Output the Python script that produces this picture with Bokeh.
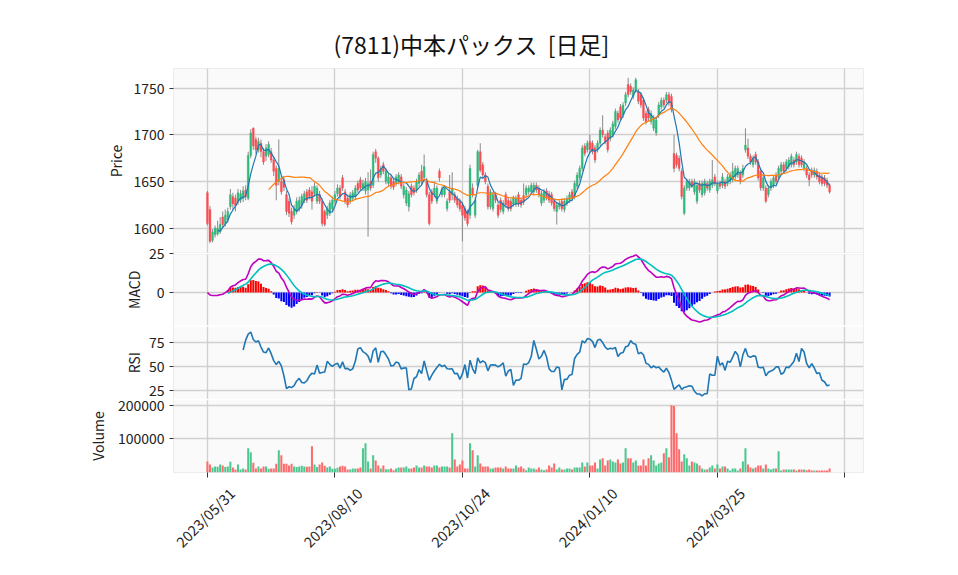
import numpy as np
import pandas as pd
from bokeh.plotting import figure
from bokeh.models import ColumnDataSource, Range1d, FixedTicker, Span, GridBox
from bokeh.core.properties import value
from bokeh.embed import file_html
from bokeh.resources import INLINE

title_text = "(7811)中本パックス\u00a0\u00a0[日足]"
tick_pos = [0, 50, 100, 150, 200, 250]
tick_labels = ["2023/05/31", "2023/08/10", "2023/10/24", "2024/01/10", "2024/03/25", ""]

open_prices = [
    1638,1620,1587,1593,1594,1596,1612,1605,1609,1623,
    1634,1632,1628,1630,1632,1641,1632,1678,1707,1695,
    1684,1691,1682,1677,1679,1682,1673,1664,1650,1650,
    1652,1636,1629,1618,1614,1618,1621,1625,1630,1639,
    1641,1639,1637,1629,1636,1629,1618,1614,1616,1621,
    1629,1637,1643,1654,1639,1632,1629,1632,1634,1648,
    1652,1643,1640,1641,1650,1646,1682,1675,1657,1668,
    1650,1648,1654,1650,1648,1650,1655,1636,1627,1623,
    1645,1643,1641,1648,1661,1654,1650,1636,1639,1636,
    1629,1661,1636,1636,1621,1639,1636,1636,1632,1629,
    1625,1621,1618,1614,1643,1614,1646,1682,1668,1657,
    1645,1623,1621,1636,1625,1630,1618,1636,1630,1629,
    1626,1626,1636,1630,1635,1636,1639,1639,1639,1646,
    1643,1627,1630,1640,1637,1636,1629,1618,1623,1629,
    1620,1627,1630,1639,1634,1645,1654,1664,1688,1684,
    1693,1691,1686,1684,1691,1705,1698,1702,1696,1700,
    1709,1723,1730,1721,1734,1754,1752,1741,1748,1746,
    1743,1737,1723,1727,1714,1707,1702,1721,1730,1737,
    1737,1743,1741,1680,1678,1675,1661,1616,1643,1643,
    1650,1639,1629,1648,1636,1638,1648,1641,1646,1655,
    1640,1648,1646,1650,1648,1650,1652,1655,1657,1659,
    1657,1684,1686,1677,1668,1679,1671,1661,1643,1643,
    1636,1643,1646,1657,1655,1661,1668,1664,1666,1668,
    1673,1671,1677,1675,1664,1664,1657,1662,1657,1661,
    1657,1655,1654,1651,1646,
]
high_prices = [
    1640,1624,1599,1603,1608,1612,1618,1620,1622,1642,
    1638,1636,1642,1641,1645,1646,1682,1706,1708,1698,
    1697,1695,1686,1690,1693,1686,1676,1667,1695,1656,
    1656,1640,1632,1622,1625,1633,1634,1637,1640,1642,
    1644,1645,1649,1646,1640,1632,1620,1624,1630,1634,
    1640,1647,1646,1657,1642,1636,1639,1641,1646,1651,
    1655,1652,1654,1660,1663,1682,1685,1677,1667,1671,
    1664,1658,1657,1653,1658,1660,1658,1648,1644,1640,
    1648,1646,1653,1660,1668,1679,1654,1639,1642,1650,
    1646,1664,1645,1646,1632,1657,1660,1639,1635,1632,
    1628,1624,1620,1668,1648,1633,1684,1691,1671,1660,
    1648,1642,1639,1639,1628,1633,1630,1639,1633,1632,
    1635,1635,1639,1633,1648,1646,1646,1649,1649,1649,
    1646,1640,1642,1643,1640,1639,1632,1628,1630,1632,
    1632,1635,1639,1642,1651,1660,1667,1689,1691,1694,
    1700,1694,1689,1694,1708,1721,1701,1705,1708,1715,
    1728,1726,1733,1735,1746,1761,1755,1751,1761,1749,
    1746,1740,1726,1730,1726,1721,1719,1735,1740,1740,
    1746,1746,1744,1700,1681,1678,1664,1646,1653,1653,
    1653,1653,1649,1651,1651,1653,1651,1653,1673,1658,
    1651,1651,1659,1653,1658,1660,1670,1667,1667,1662,
    1668,1707,1696,1680,1678,1682,1674,1664,1657,1646,
    1646,1653,1657,1660,1667,1671,1671,1674,1676,1680,
    1676,1682,1680,1678,1674,1667,1660,1665,1665,1664,
    1660,1658,1657,1654,1648,
]
low_prices = [
    1603,1584,1585,1590,1592,1594,1601,1602,1606,1620,
    1620,1618,1625,1627,1628,1630,1630,1675,1684,1680,
    1681,1676,1668,1672,1676,1670,1656,1630,1646,1636,
    1640,1614,1612,1604,1610,1615,1618,1621,1627,1627,
    1631,1620,1634,1626,1626,1602,1602,1610,1613,1618,
    1626,1634,1631,1640,1626,1622,1626,1629,1631,1638,
    1640,1640,1636,1591,1640,1643,1670,1650,1654,1658,
    1647,1645,1642,1641,1645,1647,1642,1632,1624,1618,
    1633,1635,1638,1645,1646,1650,1633,1603,1626,1633,
    1626,1650,1633,1633,1618,1627,1630,1627,1622,1618,
    1586,1608,1602,1610,1633,1611,1644,1660,1654,1647,
    1620,1620,1618,1627,1611,1617,1615,1622,1618,1618,
    1623,1623,1623,1622,1625,1633,1636,1636,1636,1638,
    1633,1624,1627,1630,1627,1624,1618,1604,1620,1618,
    1617,1624,1627,1629,1631,1642,1651,1661,1677,1681,
    1681,1679,1670,1681,1688,1697,1690,1681,1693,1697,
    1706,1713,1715,1718,1731,1740,1743,1738,1745,1733,
    1729,1715,1711,1715,1711,1704,1699,1718,1727,1729,
    1734,1731,1724,1660,1665,1661,1631,1614,1640,1640,
    1643,1636,1626,1638,1633,1635,1640,1638,1643,1645,
    1637,1642,1643,1642,1645,1647,1649,1652,1654,1647,
    1654,1681,1674,1668,1665,1668,1651,1640,1640,1627,
    1633,1640,1643,1647,1652,1658,1658,1661,1663,1665,
    1665,1668,1665,1665,1661,1654,1645,1654,1654,1652,
    1647,1645,1645,1643,1637,
]
close_prices = [
    1605,1586,1596,1600,1600,1604,1604,1614,1618,1636,
    1626,1624,1638,1637,1640,1634,1678,1702,1688,1684,
    1693,1682,1671,1686,1690,1673,1661,1646,1664,1639,
    1644,1618,1616,1607,1621,1629,1630,1634,1637,1630,
    1634,1629,1645,1643,1629,1605,1604,1621,1627,1630,
    1636,1643,1634,1643,1629,1625,1636,1638,1643,1641,
    1643,1648,1650,1648,1643,1679,1675,1654,1664,1661,
    1661,1655,1645,1644,1655,1657,1645,1645,1641,1637,
    1636,1638,1650,1657,1650,1666,1636,1605,1629,1643,
    1643,1654,1642,1643,1629,1630,1643,1630,1625,1621,
    1614,1611,1605,1664,1636,1630,1682,1662,1657,1650,
    1623,1639,1636,1630,1614,1620,1627,1625,1621,1621,
    1632,1632,1626,1625,1628,1643,1643,1646,1646,1641,
    1636,1637,1639,1633,1630,1627,1621,1625,1627,1621,
    1629,1632,1636,1632,1648,1657,1664,1686,1680,1691,
    1684,1682,1673,1691,1705,1700,1693,1684,1705,1712,
    1725,1716,1718,1732,1743,1743,1746,1748,1759,1736,
    1732,1718,1714,1718,1723,1718,1716,1732,1737,1732,
    1743,1734,1727,1664,1668,1664,1634,1643,1650,1650,
    1646,1650,1646,1641,1648,1650,1643,1650,1652,1648,
    1648,1645,1655,1645,1655,1657,1661,1664,1664,1650,
    1664,1689,1677,1671,1675,1671,1654,1643,1654,1629,
    1643,1650,1654,1650,1664,1668,1661,1671,1673,1677,
    1668,1679,1668,1668,1671,1657,1652,1657,1662,1655,
    1650,1648,1648,1646,1639,
]
volumes = [
    33000,24000,15000,18000,17000,24000,21000,16000,18000,32000,
    15000,9000,24000,9000,12000,9000,72000,60000,29000,12000,
    18000,12000,18000,18000,11000,12000,12000,26000,66000,51000,
    26000,26000,21000,26000,18000,16000,18000,20000,18000,17000,
    18000,78000,24000,16000,24000,30000,20000,15000,18000,11000,
    11000,14000,18000,20000,18000,9000,9000,12000,12000,12000,
    15000,72000,87000,33000,12000,51000,36000,21000,12000,21000,
    10000,10000,12000,7000,12000,15000,15000,15000,18000,12000,
    12000,15000,21000,15000,15000,21000,18000,18000,15000,21000,
    21000,15000,18000,18000,18000,15000,117000,39000,18000,24000,
    36000,12000,12000,87000,66000,18000,51000,27000,18000,18000,
    18000,12000,12000,15000,15000,15000,12000,18000,12000,12000,
    12000,21000,15000,18000,12000,7000,15000,12000,12000,9000,
    15000,9000,7000,9000,21000,15000,27000,9000,15000,9000,
    9000,12000,12000,9000,15000,15000,15000,30000,18000,30000,
    21000,21000,30000,12000,39000,42000,21000,36000,39000,33000,
    30000,39000,27000,30000,72000,42000,42000,30000,36000,21000,
    21000,39000,21000,42000,51000,36000,21000,27000,30000,57000,
    72000,45000,200000,198000,117000,69000,33000,54000,42000,21000,
    33000,30000,27000,21000,12000,9000,9000,15000,21000,12000,
    24000,12000,18000,18000,12000,6000,12000,12000,6000,12000,
    33000,72000,24000,15000,12000,15000,21000,21000,12000,24000,
    12000,9000,12000,12000,63000,6000,9000,9000,9000,9000,
    9000,6000,9000,9000,9000,7000,9000,6000,6000,6000,
    6000,6000,6000,6000,12000,
]

FONT = "Noto Sans CJK JP"
TXT = "#222222"
n = len(close_prices)
xs = list(range(n))
o = np.array(open_prices, float)
c = np.array(close_prices, float)
up = c >= o
cs = pd.Series(c)

sma5 = cs.rolling(5).mean()
sma25 = cs.rolling(25).mean()
ema12 = cs.ewm(span=12, adjust=False).mean()
ema26 = cs.ewm(span=26, adjust=False).mean()
macd = ema12 - ema26
signal = macd.ewm(span=9, adjust=False).mean()
signal[:8] = np.nan
hist = macd - signal
d = cs.diff()
gain = d.clip(lower=0).rolling(14).mean()
loss = (-d.clip(upper=0)).rolling(14).mean()
rsi = 100 - 100 / (1 + gain / loss)

src = ColumnDataSource(dict(
    x=xs, open=o, close=c, high=high_prices, low=low_prices,
    top=np.maximum(o, c), bottom=np.minimum(o, c),
    color=["#2fb97b" if u else "#fd4b52" for u in up],
    vcolor=["#4dc790" if u else "#fd6b6c" for u in up],
    volume=volumes,
))
hx = [i for i in xs if not np.isnan(hist[i])]
hsrc = ColumnDataSource(dict(
    x=hx, h=[hist[i] for i in hx],
    color=["#ff0000" if hist[i] >= 0 else "#0000ff" for i in hx],
))

# geometry of the page
W, H = 943, 567
LB, TB, RB = 173, 68, 80
FW, FH = 690, 404
BB = H - TB - FH
X0, X1 = -13.3, 257.3

# stacked panels inside one frame (pixels from the frame bottom)
panels = {
    "price": ((219.0, 404.0), (1573.0, 1771.0), [1600, 1650, 1700, 1750], "Price", 115),
    "macd": ((146.5, 219.0), (-21.6, 25.3), [0, 25], "MACD", 133),
    "rsi": ((73.0, 146.5), (16.0, 92.7), [25, 50, 75], "RSI", 133),
    "vol": ((0.0, 73.0), (0.0, 217000.0), [100000, 200000], "Volume", 97),
}


def full_range(band, vr):
    b0, b1 = band
    s = (b1 - b0) / (vr[1] - vr[0])
    return Range1d(vr[0] - b0 / s, vr[1] + (FH - b1) / s)


def to_px(band, vr, v):
    b0, b1 = band
    return round(b0 + (v - vr[0]) * (b1 - b0) / (vr[1] - vr[0]), 3)


p = figure(frame_width=FW, frame_height=FH, x_range=Range1d(X0, X1),
           y_range=Range1d(0, FH), output_backend="svg", toolbar_location=None,
           min_border_left=LB, min_border_right=RB, min_border_top=TB,
           min_border_bottom=BB)
p.frame_align = False
p.extra_y_ranges = {k: full_range(v[0], v[1]) for k, v in panels.items()}
p.background_fill_color = "#fafafa"
p.border_fill_color = "white"
p.outline_line_color = "#ececec"

p.title.text = title_text
p.title.align = "left"
p.title.offset = 160
p.title.text_font = FONT
p.title.text_font_size = "23px"
p.title.text_font_style = "normal"
p.title.text_color = "#111111"
p.title.standoff = 15

yt, yo = [], {}
for k, (band, vr, ticks, lab, lx) in panels.items():
    for t in ticks:
        px = to_px(band, vr, t)
        yt.append(px)
        yo[px] = str(t)
ya = p.yaxis[0]
ya.ticker = FixedTicker(ticks=yt)
ya.major_label_overrides = yo
ya.axis_line_color = None
ya.major_tick_in = 0
ya.major_tick_out = 4
ya.major_tick_line_color = "#333333"
ya.minor_tick_line_color = None
ya.major_label_text_font = FONT
ya.major_label_text_font_size = "14px"
ya.major_label_text_color = TXT
ya.major_label_standoff = 5

xa = p.xaxis[0]
xa.ticker = FixedTicker(ticks=tick_pos)
xa.major_label_overrides = {t: "" for t in tick_pos}
xa.axis_line_color = None
xa.major_tick_in = 0
xa.major_tick_out = 5
xa.major_tick_line_color = "#333333"
xa.minor_tick_line_color = None

p.xgrid.ticker = FixedTicker(ticks=tick_pos)
for g in (p.xgrid, p.ygrid):
    g.grid_line_color = "#d0d0d0"
    g.grid_line_width = 1.3

for k in ("macd", "rsi", "vol"):
    p.add_layout(Span(location=panels[k][0][1], dimension="width",
                      line_color="#ffffff", line_width=1.5))

# price
p.segment(x0="x", y0="low", x1="x", y1="high", source=src, color="#8a8a8a",
          line_width=1, y_range_name="price")
p.vbar(x="x", width=0.72, top="top", bottom="bottom", source=src,
       fill_color="color", line_color="color", line_width=0.4, y_range_name="price")
p.line(xs, sma5, color="#1f77b4", line_width=1.2, y_range_name="price")
p.line(xs, sma25, color="#ff7f0e", line_width=1.2, y_range_name="price")

# macd
p.vbar(x="x", width=0.8, top="h", bottom=0, source=hsrc, fill_color="color",
       line_color=None, y_range_name="macd")
p.line(xs, macd, color="#bf00bf", line_width=1.6, y_range_name="macd")
p.line(xs, signal, color="#00bfbf", line_width=1.6, y_range_name="macd")

# rsi
p.line(xs, rsi, color="#1f77b4", line_width=1.6, y_range_name="rsi")

# volume
p.vbar(x="x", width=0.8, top="volume", bottom=0, source=src,
       fill_color="vcolor", line_color=None, y_range_name="vol")

# transparent overlay carrying the panel names and the rotated date labels
ov = figure(width=W, height=H, x_range=Range1d(0, W), y_range=Range1d(0, H),
            output_backend="svg", toolbar_location=None,
            x_axis_location=None, y_axis_location=None, min_border=0)
ov.frame_align = False
ov.grid.visible = False
ov.outline_line_color = None
ov.background_fill_color = None
ov.border_fill_color = None

names = [v[3] for v in panels.values()]
name_x = [v[4] for v in panels.values()]
name_y = [H - (TB + FH - (v[0][0] + v[0][1]) / 2) for v in panels.values()]
ov.text(x=name_x, y=name_y, text=names, angle=np.pi / 2, text_align="center",
        text_baseline="middle", text_font=value(FONT), text_font_size="14px",
        text_color=TXT)

lab_t = [t for t, l in zip(tick_pos, tick_labels) if l]
lab_s = [l for l in tick_labels if l]
lab_x = [LB + (t - X0) * FW / (X1 - X0) - 2.5 for t in lab_t]
lab_y = [H - (TB + FH + 44.5)] * len(lab_t)
ov.text(x=lab_x, y=lab_y, text=lab_s, angle=np.pi / 4, text_align="center",
        text_baseline="middle", text_font=value(FONT), text_font_size="14.5px",
        text_color=TXT)

layout = GridBox(children=[(p, 0, 0), (ov, 0, 0)])
open("out.html", "w").write(file_html(layout, INLINE))
